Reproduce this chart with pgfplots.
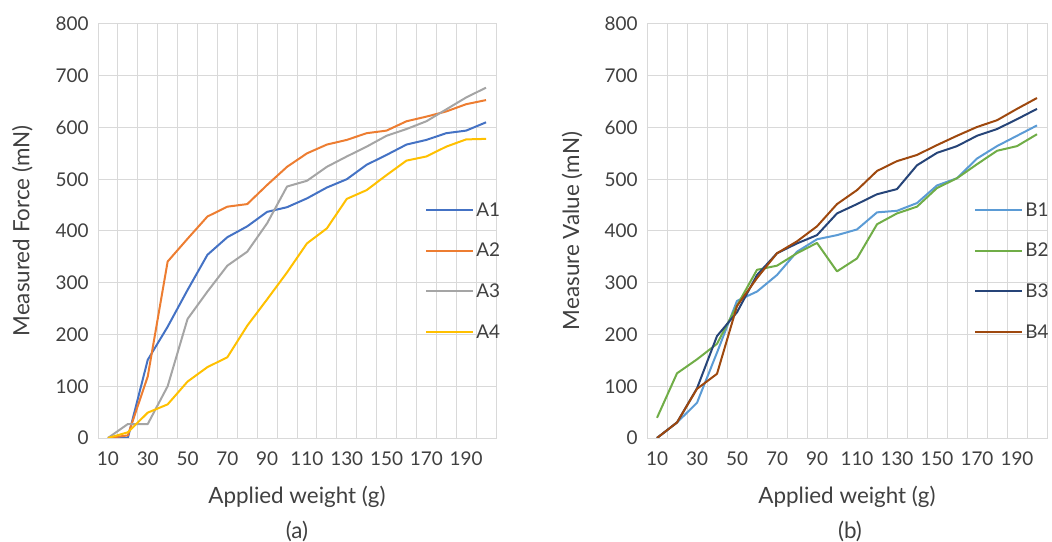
\documentclass[border=0pt]{standalone}
\usepackage{pgfplots}
\pgfplotsset{compat=1.18}
\usepackage{pgfplotstable}
\usepackage{fontspec}
\setmainfont{Lato}
\definecolor{cA1}{HTML}{4472C4}
\definecolor{cA2}{HTML}{ED7D31}
\definecolor{cA3}{HTML}{A5A5A5}
\definecolor{cA4}{HTML}{FFC000}
\definecolor{cB1}{HTML}{5B9BD5}
\definecolor{cB2}{HTML}{70AD47}
\definecolor{cB3}{HTML}{264478}
\definecolor{cB4}{HTML}{9E480E}
\definecolor{gridc}{HTML}{D9D9D9}
\definecolor{txt}{HTML}{404040}

\pgfplotstableread{
w   A1   A2   A3   A4
10  0    0    0    0
20  0    5    27   11
30  151  119  27   49
40  215  341  100  65
50  286  385  230  109
60  354  428  283  137
70  388  447  333  156
80  409  452  360  217
90  437  489  415  268
100 446  524  486  320
110 463  550  497  376
120 484  567  524  405
130 500  576  544  462
140 528  589  563  479
150 547  594  584  508
160 567  612  597  536
170 576  621  612  544
180 589  631  635  563
190 594  645  658  577
200 610  653  677  578
}\dataA

\pgfplotstableread{
w   B1   B2   B3   B4
10  0    39   0    0
20  30   125  30   30
30  68   152  96   95
40  165  182  197  124
50  265  256  243  255
60  283  325  315  309
70  315  333  357  357
80  360  357  376  380
90  384  377  392  409
100 392  322  434  452
110 403  347  452  479
120 436  413  471  516
130 439  434  481  535
140 454  447  527  547
150 488  483  551  566
160 502  502  564  584
170 540  529  584  601
180 564  555  597  614
190 584  564  616  636
200 604  587  636  657
}\dataB

\pgfplotsset{
  excel/.style={
    scale only axis, height=414bp,
    xmin=5, xmax=205, ymin=0, ymax=800,
    xtick={10,30,...,190}, ytick={0,100,...,800},
    minor xtick={5,15,...,205},
    xminorgrids=true, xmajorgrids=false, ymajorgrids=true,
    grid style={gridc, line width=1bp},
    minor grid style={gridc, line width=1bp},
    major tick length=0pt, minor tick length=0pt,
    axis line style={gridc, line width=1bp},
    /pgf/number format/assume math mode=true,
    tick label style={font=\fontsize{19}{19}\selectfont, text=txt},
    xticklabel style={yshift=-10bp},
    yticklabel style={xshift=-6bp},
    label style={font=\fontsize{22.5}{22.5}\selectfont, text=txt},
    xlabel={Applied weight (g)},
    xlabel style={at={(axis description cs:0.5,-0.1425)}, anchor=center},
    legend style={draw=none, fill=none, anchor=north west,
      font=\fontsize{19}{19}\selectfont, text=txt,
      row sep=21.5bp, inner sep=0pt, cells={anchor=west}},
    legend image code/.code={\draw[#1, line width=2bp] (0bp,0bp) -- (47bp,0bp);},
    every axis plot/.append style={line width=2bp, no markers, line join=round},
  }
}

\begin{document}
\begin{tikzpicture}
\path[use as bounding box] (0,0) rectangle (1052bp,542bp);
\begin{axis}[excel, width=398bp, anchor=south west, at={(98bp,104bp)},
  ylabel={Measured Force (mN)},
  ylabel style={at={(axis description cs:-0.19,0.5)}, anchor=center},
  legend style={at={(axis description cs:0.822,0.574)}}]
\addplot[cA1] table[x=w,y=A1] {\dataA};
\addplot[cA2] table[x=w,y=A2] {\dataA};
\addplot[cA3] table[x=w,y=A3] {\dataA};
\addplot[cA4] table[x=w,y=A4] {\dataA};
\legend{A1,A2,A3,A4}
\end{axis}
\node[font=\fontsize{22.5}{22.5}\selectfont, text=txt] at (297bp,11bp) {(a)};
\begin{axis}[excel, width=400bp, anchor=south west, at={(647bp,104bp)},
  ylabel={Measure Value (mN)},
  ylabel style={at={(axis description cs:-0.1875,0.5)}, anchor=center},
  legend style={at={(axis description cs:0.818,0.574)}}]
\addplot[cB1] table[x=w,y=B1] {\dataB};
\addplot[cB2] table[x=w,y=B2] {\dataB};
\addplot[cB3] table[x=w,y=B3] {\dataB};
\addplot[cB4] table[x=w,y=B4] {\dataB};
\legend{B1,B2,B3,B4}
\end{axis}
\node[font=\fontsize{22.5}{22.5}\selectfont, text=txt] at (850bp,11bp) {(b)};
\end{tikzpicture}
\end{document}
